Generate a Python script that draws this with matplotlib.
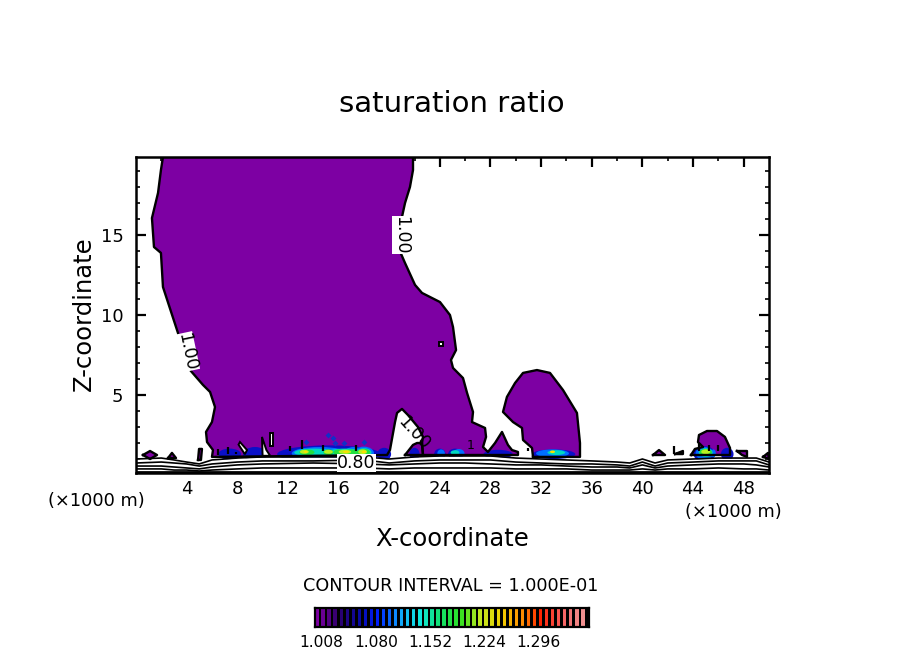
import matplotlib
matplotlib.use("Agg")
import numpy as np
import matplotlib.pyplot as plt
from matplotlib.colors import LinearSegmentedColormap
from matplotlib.patches import Ellipse

plt.rcParams['font.family'] = ['DejaVu Sans']

TITLE = "saturation ratio"
XLABEL = "X-coordinate"
ZLABEL = "Z-coordinate"
UNITS = "(\u00d71000 m)"
INTERVAL = "CONTOUR INTERVAL = 1.000E-01"
PURPLE = "#7d00a3"

x_ticks = [4, 8, 12, 16, 20, 24, 28, 32, 36, 40, 44, 48]
z_ticks = [5, 10, 15]
cbar_ticks = [1.008, 1.080, 1.152, 1.224, 1.296]
cbar_labels = ["1.008", "1.080", "1.152", "1.224", "1.296"]

# Saturated region (contour 1.00): x in km, z in km
main_x = [2.13, 1.97, 1.74, 1.26, 1.42, 1.97, 2.13, 3.24, 4.27, 5.29, 5.85, 6.24, 6.0, 5.53, 5.61, 6.08, 6.0,
          19.83, 20.06, 20.46, 20.62, 21.01, 21.48, 22.27, 22.67, 22.59, 22.67, 27.17, 30.17, 30.17, 29.7, 29.38,
          28.91, 28.36, 27.8, 27.41, 27.65, 27.57, 26.54, 26.62, 26.15, 25.83, 25.04, 24.88, 25.28, 25.04, 24.8,
          24.01, 22.59, 22.04, 21.25, 20.7, 20.62, 21.01, 21.25, 21.64, 21.88, 21.88]
main_z = [19.88, 19.06, 17.63, 16.06, 14.25, 13.88, 11.75, 9.06, 6.56, 5.63, 5.19, 4.25, 3.31, 2.69, 2.06, 1.56, 1.13,
          1.25, 1.56, 3.31, 3.88, 4.13, 3.75, 3.0, 2.38, 2.0, 1.25, 1.25, 1.25, 1.44, 1.56, 1.88,
          2.69, 2.0, 1.44, 1.75, 2.38, 2.94, 3.31, 3.94, 5.13, 6.06, 6.69, 7.19, 7.81, 9.25, 10.0,
          10.81, 11.38, 11.88, 13.25, 14.25, 15.13, 16.13, 17.0, 18.0, 19.06, 19.88]
plume2_x = [31.36, 35.07, 35.07, 34.83, 33.73, 32.7, 31.67, 30.57, 29.94, 29.3, 28.99, 29.78, 30.49, 30.57, 31.28]
plume2_z = [1.13, 1.13, 2.0, 3.88, 5.31, 6.38, 6.56, 6.38, 5.75, 4.88, 3.94, 3.31, 2.94, 2.19, 1.69]
plume3_x = [43.84, 44.15, 44.79, 44.39, 44.47, 45.1, 45.89, 46.52, 46.92, 46.92]
plume3_z = [1.25, 1.63, 1.75, 2.06, 2.5, 2.75, 2.75, 2.38, 1.69, 1.25]
wedge_x = [21.25, 21.88, 22.2, 22.59, 22.67]
wedge_z = [1.25, 1.88, 2.0, 2.0, 1.25]
blob1_x = [0.55, 1.11, 1.66, 1.11]
blob1_z = [1.25, 1.5, 1.25, 1.0]
blob2_x = [2.53, 2.84, 3.16]
blob2_z = [1.06, 1.38, 1.06]
blob3_x = [4.9, 4.98, 5.21, 5.13]
blob3_z = [0.94, 1.63, 1.63, 0.94]
blob4_x = [40.84, 41.31, 41.79]
blob4_z = [1.25, 1.56, 1.25]
blob5_x = [42.58, 43.2, 43.2]
blob5_z = [1.31, 1.5, 1.31]
blob6_x = [47.47, 48.26, 48.26, 47.87]
blob6_z = [1.5, 1.5, 1.13, 1.25]
blob7_x = [49.53, 49.92, 50.0]
blob7_z = [1.13, 1.38, 1.0]

# Unsaturated holes
hole1_x = [9.95, 10.3, 10.6, 10.0]
hole1_z = [2.38, 1.56, 1.2, 1.2]
hole2_x = [8.21, 8.77, 8.6, 8.1]
hole2_z = [2.06, 1.56, 1.3, 1.9]
hole3_x = [23.95, 24.23, 24.23, 23.95]
hole3_z = [8.07, 8.07, 8.31, 8.31]
hole4_x = [10.6, 10.8, 10.8, 10.6]
hole4_z = [1.8, 1.8, 2.6, 2.6]

# Supersaturation patches near cloud base: x, z, width, height, colour
spot_x = [15.25, 7.4, 9.4, 19.6, 24.0, 25.2, 28.6, 33.0, 44.9, 46.7, 22.0,
          14.5, 17.2, 18.0, 32.9, 24.1, 25.5, 44.9, 45.6,
          14.1, 16.5, 18.0, 33.2, 25.2, 45.0,
          13.5, 15.2, 16.0, 17.0, 18.0, 45.0,
          13.3, 15.2, 16.5, 17.9, 45.0,
          13.4, 16.6, 18.0, 32.9]
spot_z = [1.3] * 11 + [1.35] * 8 + [1.4] * 6 + [1.42] * 6 + [1.45] * 5 + [1.45] * 4
spot_w = [8.2, 1.8, 1.9, 1.1, 0.9, 1.1, 2.3, 3.4, 1.7, 1.0, 0.8,
          4.4, 1.6, 1.6, 2.6, 0.6, 0.9, 1.4, 0.4,
          3.2, 3.0, 1.2, 1.4, 0.7, 1.1,
          1.2, 0.8, 0.8, 1.2, 1.0, 1.0,
          0.7, 0.7, 1.0, 0.7, 0.7,
          0.3, 0.5, 0.35, 0.4]
spot_h = [1.1, 0.7, 0.9, 0.8, 0.7, 0.7, 0.55, 0.6, 1.0, 0.8, 0.8,
          0.8, 0.8, 0.85, 0.5, 0.5, 0.55, 0.8, 0.5,
          0.5, 0.5, 0.55, 0.3, 0.3, 0.55,
          0.36, 0.36, 0.36, 0.36, 0.42, 0.42,
          0.24, 0.24, 0.26, 0.3, 0.3,
          0.14, 0.14, 0.16, 0.16]
spot_c = ["#0a10c8"] * 11 + ["#0070ff"] * 8 + ["#00d8c0"] * 6 + ["#20e040"] * 6 + ["#b8f020"] * 5 + ["#f8e000"] * 4

# Isolated small supersaturated specks
speck_x = [15.2, 15.6, 15.7, 16.4, 18.0, 13.4]
speck_z = [2.5, 2.31, 2.0, 2.0, 2.06, 2.06]

# Short black contour stubs at cloud base
stub_x = [6.5, 7.3, 7.9, 13.1, 14.8, 12.2, 17.4, 31.0, 42.5, 44.5, 45.3, 46.0]
stub_z0 = [1.25, 1.3, 1.3, 1.6, 1.5, 1.5, 1.5, 1.5, 1.3, 1.5, 1.5, 1.5]
stub_z1 = [1.65, 1.75, 1.45, 2.2, 1.85, 1.8, 1.85, 1.7, 1.8, 2.0, 1.85, 1.85]

# Low-level contours (dry layer)
line_x = [0, 2, 3, 4, 5, 6, 8, 10, 14, 18, 20, 22, 24, 26, 28, 30, 32, 34, 36, 38, 39, 40, 41, 42, 44, 46, 48, 49, 50]
line1_z = [1.0, 1.06, .94, .81, .69, .94, 1.06, 1.13, 1.13, 1.13, 1.0, 1.13, 1.19, 1.19, 1.19, 1.06, 1.0, .94, .88, .81, .75, 1.0, .75, .94, 1.0, 1.06, 1.06, 1.06, .81]
line2_z = [.75, .81, .75, .69, .56, .69, .81, .88, .88, .94, .75, .88, .94, .94, .94, .81, .75, .69, .69, .63, .56, .81, .56, .75, .81, .88, .88, .88, .63]
line3_z = [.56, .56, .5, .44, .38, .5, .63, .69, .75, .69, .63, .69, .75, .75, .69, .63, .63, .56, .5, .5, .44, .63, .44, .56, .63, .69, .69, .63, .5]
line4_z = [.38, .38, .31, .31, .25, .31, .38, .44, .44, .44, .38, .44, .44, .44, .44, .38, .38, .38, .31, .31, .31, .38, .31, .38, .38, .44, .38, .38, .31]
line5_z = [.19] * len(line_x)

# Colour bar
cbar_levels = [1.0 + 0.008 * i for i in range(45)]
cbar_anchor = ["#7d00a3", "#30006a", "#0808a0", "#0020ff", "#10a0ff", "#10e8e0", "#10e070",
               "#30e020", "#c0e820", "#f0d000", "#ff9000", "#ff2000", "#f86060", "#f09090"]

fig = plt.figure(figsize=(9.04, 6.54), dpi=100, facecolor="white")
W, H = 904.0, 654.0
ax = fig.add_axes([136 / W, 1 - 473 / H, 633 / W, 316 / H])
ax.set_xlim(0, 50)
ax.set_ylim(0.125, 19.875)

outline = dict(color="black", lw=1.7, solid_joinstyle="round", zorder=6)
filled = [(main_x, main_z), (plume2_x, plume2_z), (plume3_x, plume3_z), (wedge_x, wedge_z),
          (blob1_x, blob1_z), (blob2_x, blob2_z), (blob3_x, blob3_z), (blob4_x, blob4_z),
          (blob5_x, blob5_z), (blob6_x, blob6_z), (blob7_x, blob7_z)]
for xs, zs in filled:
    ax.fill(xs, zs, color=PURPLE, lw=0, zorder=2)

for x, z, w, h, c in zip(spot_x, spot_z, spot_w, spot_h, spot_c):
    ax.add_patch(Ellipse((x, z), w, h, facecolor=c, edgecolor="none", zorder=3))
ax.scatter(speck_x, speck_z, s=9, marker="D", color="#1030c8", lw=0, zorder=3)

for xs, zs in filled:
    ax.plot(xs + xs[:1], zs + zs[:1], **outline)
for xs, zs in [(hole1_x, hole1_z), (hole2_x, hole2_z), (hole3_x, hole3_z), (hole4_x, hole4_z)]:
    ax.fill(xs, zs, facecolor="white", edgecolor="black", lw=1.4, zorder=6)
ax.vlines(stub_x, stub_z0, stub_z1, color="black", lw=1.6, zorder=6)

# clear beneath the cloud base, then draw low contours
ax.fill_between(line_x, 0, line1_z, color="white", lw=0, zorder=5)
for zs in (line1_z, line2_z, line3_z, line4_z):
    ax.plot(line_x, zs, color="black", lw=1.2, zorder=7)
ax.plot(line_x, line5_z, color="black", lw=2.0, zorder=7)

# contour labels with white backing
lab = dict(ha="center", va="center", fontsize=12.5, color="black", zorder=8)
ax.text(20.95, 15.0, "1.00", rotation=-90, bbox=dict(fc="white", ec="none", pad=0.1), **lab)
ax.text(4.05, 7.7, "1.00", rotation=-78, bbox=dict(fc="white", ec="none", pad=0.0), **lab)
ax.text(17.4, 0.72, "0.80", bbox=dict(fc="white", ec="none", pad=0.0), **lab)
ax.text(21.9, 2.6, "1.00", rotation=-48, **lab)
ax.text(26.4, 1.85, "1", fontsize=9, ha="center", va="center", zorder=8)

# axes frame and ticks
for s in ax.spines.values():
    s.set_linewidth(1.8)
    s.set_zorder(10)
ax.set_xticks(x_ticks)
ax.set_xticks(list(range(2, 50, 4)), minor=True)
ax.set_yticks(z_ticks)
ax.set_yticks([z for z in range(1, 20) if z % 5], minor=True)
ax.tick_params(which="major", direction="in", length=7, width=1.6, top=True, right=True, labelsize=13, pad=8)
ax.tick_params(which="minor", direction="in", length=3.2, width=1.2, top=True, right=True)
ax.tick_params(axis="y", which="major", pad=9)
ax.tick_params(axis="x", which="major", pad=5)

def fig_text(px, py, s, **kw):
    fig.text(px / W, 1 - py / H, s, ha="center", va="center", color="black", **kw)

fig_text(452, 104, TITLE, fontsize=21)
fig_text(452, 539, XLABEL, fontsize=17.5)
fig_text(84, 314, ZLABEL, fontsize=17.5, rotation=90)
fig_text(96, 501, UNITS, fontsize=12.8)
fig_text(733, 512, UNITS, fontsize=12.8)
fig_text(451, 586, INTERVAL, fontsize=12.7)

# Colour bar
cax = fig.add_axes([315 / W, 1 - 627 / H, 274 / W, 19 / H], facecolor="black")
cmap = LinearSegmentedColormap.from_list("rb", cbar_anchor)
cax.bar(cbar_levels, 1, width=0.0046, align="edge", bottom=0,
        color=[cmap(i / 44) for i in range(45)], lw=0)
cax.set_xlim(0.9995, 1.3625)
cax.set_ylim(0, 1)
cax.set_yticks([])
cax.set_xticks(cbar_ticks)
cax.set_xticklabels(cbar_labels, fontsize=11.2)
cax.tick_params(axis="x", length=0, pad=6)
for s in cax.spines.values():
    s.set_linewidth(1.6)

fig.savefig("out.png", dpi=100, facecolor="white")
